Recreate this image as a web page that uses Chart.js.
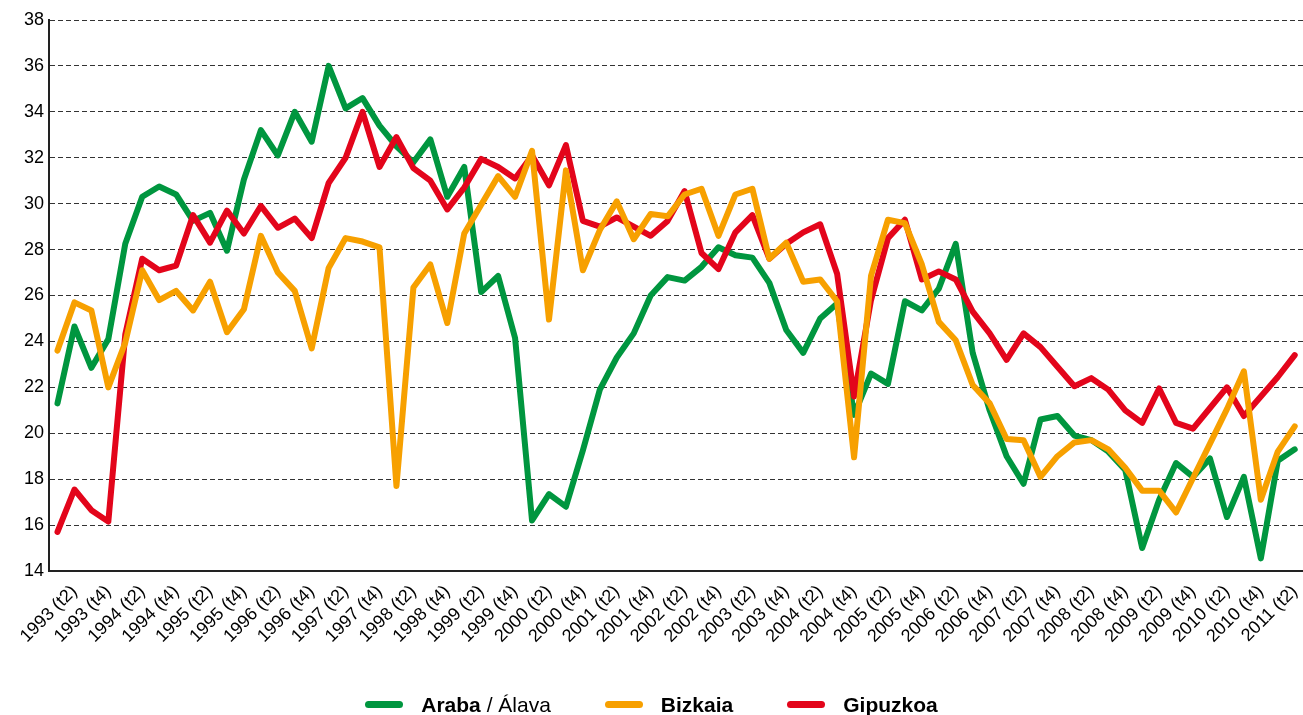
<!DOCTYPE html>
<html><head><meta charset="utf-8">
<script src="https://cdn.jsdelivr.net/npm/chart.js@4.4.1/dist/chart.umd.min.js"></script>
<style>
html,body{margin:0;padding:0;background:#fff;overflow:hidden;width:1303px;height:715px;}
#wrap{position:relative;width:1303px;height:715px;overflow:hidden;}
canvas{position:absolute;left:0;top:0;}
#legend{position:absolute;left:0;top:692px;width:1303px;display:flex;justify-content:center;align-items:center;font-family:"Liberation Sans",Arial,sans-serif;font-size:21px;line-height:25px;color:#000;}
.item{display:flex;align-items:center;margin:0 27px;white-space:nowrap;}
.sw{width:38px;height:7px;border-radius:4px;margin-right:18px;}
</style></head>
<body><div id="wrap"><canvas id="c" width="1320" height="715"></canvas><div id="legend"></div></div>
<script>
const categories = [
"1993 (t1)","1993 (t2)","1993 (t3)","1993 (t4)",
"1994 (t1)","1994 (t2)","1994 (t3)","1994 (t4)",
"1995 (t1)","1995 (t2)","1995 (t3)","1995 (t4)",
"1996 (t1)","1996 (t2)","1996 (t3)","1996 (t4)",
"1997 (t1)","1997 (t2)","1997 (t3)","1997 (t4)",
"1998 (t1)","1998 (t2)","1998 (t3)","1998 (t4)",
"1999 (t1)","1999 (t2)","1999 (t3)","1999 (t4)",
"2000 (t1)","2000 (t2)","2000 (t3)","2000 (t4)",
"2001 (t1)","2001 (t2)","2001 (t3)","2001 (t4)",
"2002 (t1)","2002 (t2)","2002 (t3)","2002 (t4)",
"2003 (t1)","2003 (t2)","2003 (t3)","2003 (t4)",
"2004 (t1)","2004 (t2)","2004 (t3)","2004 (t4)",
"2005 (t1)","2005 (t2)","2005 (t3)","2005 (t4)",
"2006 (t1)","2006 (t2)","2006 (t3)","2006 (t4)",
"2007 (t1)","2007 (t2)","2007 (t3)","2007 (t4)",
"2008 (t1)","2008 (t2)","2008 (t3)","2008 (t4)",
"2009 (t1)","2009 (t2)","2009 (t3)","2009 (t4)",
"2010 (t1)","2010 (t2)","2010 (t3)","2010 (t4)",
"2011 (t1)","2011 (t2)"
];
const araba = [
21.3,24.65,22.85,24.1,28.25,30.3,30.75,30.4,29.25,29.6,
27.95,31.05,33.2,32.1,34.0,32.7,36.0,34.15,34.6,33.4,
32.5,31.8,32.8,30.3,31.6,26.15,26.85,24.15,16.2,17.35,
16.8,19.25,21.9,23.3,24.35,26.0,26.8,26.65,27.25,28.1,
27.75,27.65,26.55,24.5,23.5,25.0,25.65,20.8,22.6,22.15,
25.75,25.35,26.3,28.25,23.5,21.0,19.0,17.8,20.6,20.75,
19.9,19.7,19.2,18.4,15.0,17.1,18.7,18.1,18.9,16.35,
18.1,14.55,18.8,19.3
];
const bizkaia = [
23.6,25.7,25.35,22.0,23.95,27.1,25.8,26.2,25.35,26.6,
24.4,25.4,28.6,27.0,26.2,23.7,27.2,28.5,28.35,28.1,
17.7,26.35,27.35,24.8,28.7,29.95,31.2,30.3,32.3,24.95,
31.45,27.1,28.85,30.1,28.45,29.55,29.45,30.4,30.65,28.6,
30.4,30.65,27.6,28.3,26.6,26.7,25.75,18.95,26.85,29.3,
29.15,27.35,24.85,24.05,22.1,21.3,19.75,19.7,18.1,19.0,
19.6,19.7,19.3,18.5,17.5,17.5,16.55,18.05,19.55,21.05,
22.7,17.1,19.2,20.3
];
const gipuzkoa = [
15.7,17.55,16.65,16.15,24.3,27.6,27.1,27.3,29.5,28.3,
29.7,28.7,29.9,28.95,29.35,28.5,30.9,32.0,34.0,31.6,
32.9,31.55,31.0,29.75,30.7,31.95,31.6,31.1,32.1,30.8,
32.55,29.25,29.0,29.4,29.0,28.6,29.25,30.55,27.85,27.15,
28.75,29.5,27.6,28.25,28.75,29.1,26.95,21.6,25.8,28.5,
29.3,26.7,27.05,26.7,25.3,24.35,23.2,24.35,23.75,22.9,
22.05,22.4,21.9,21.0,20.45,21.95,20.45,20.2,21.1,22.0,
20.75,21.6,22.45,23.4
];
const yTicks = [14,16,18,20,22,24,26,28,30,32,34,36,38];
const seriesNames = ["Araba / Álava","Bizkaia","Gipuzkoa"];
const seriesColors = ["#00963f","#f7a000","#e3051b"];

const FONT = '"Liberation Sans", Arial, Helvetica, sans-serif';

// HTML legend (mixed bold/regular text)
const legendHTML = [
  '<b>Araba</b> / Álava',
  '<b>Bizkaia</b>',
  '<b>Gipuzkoa</b>'
];
const lg = document.getElementById('legend');
legendHTML.forEach((h,i)=>{
  const it = document.createElement('div'); it.className='item';
  const sw = document.createElement('span'); sw.className='sw'; sw.style.background = seriesColors[i];
  const tx = document.createElement('span'); tx.innerHTML = h;
  it.appendChild(sw); it.appendChild(tx); lg.appendChild(it);
});

new Chart(document.getElementById('c'), {
  type: 'line',
  data: {
    labels: categories,
    datasets: [
      {label: seriesNames[0], data: araba, borderColor: seriesColors[0], backgroundColor: seriesColors[0], order: 2},
      {label: seriesNames[1], data: bizkaia, borderColor: seriesColors[1], backgroundColor: seriesColors[1], order: 0},
      {label: seriesNames[2], data: gipuzkoa, borderColor: seriesColors[2], backgroundColor: seriesColors[2], order: 1}
    ]
  },
  options: {
    responsive: false,
    animation: false,
    devicePixelRatio: 1,
    layout: {autoPadding: false, padding: {top: 20, left: 0, right: 0, bottom: 0}},
    elements: {
      point: {radius: 0, hoverRadius: 0},
      line: {borderWidth: 6, tension: 0, borderJoinStyle: 'round', borderCapStyle: 'round', fill: false}
    },
    plugins: {legend: {display: false}, tooltip: {enabled: false}},
    scales: {
      x: {
        offset: true,
        grid: {display: false, drawTicks: false},
        border: {display: true, color: '#222', width: 2},
        ticks: {
          autoSkip: false, maxRotation: 45, minRotation: 45, padding: 10,
          color: '#000', font: {family: FONT, size: 18},
          callback: (v, i) => (i % 2 === 1 ? categories[i] : '')
        },
        afterFit: (s) => { s.height = 715 - 571; }
      },
      y: {
        min: 14, max: 38,
        afterBuildTicks: (s) => { s.ticks = yTicks.map(v => ({value: v})); },
        grid: {color: '#333', lineWidth: 1, drawTicks: false},
        border: {display: true, color: '#222', width: 2, dash: [5, 3]},
        ticks: {color: '#000', font: {family: FONT, size: 18}, padding: 5},
        afterFit: (s) => { s.width = 49; }
      }
    }
  }
});
</script>
</body></html>
